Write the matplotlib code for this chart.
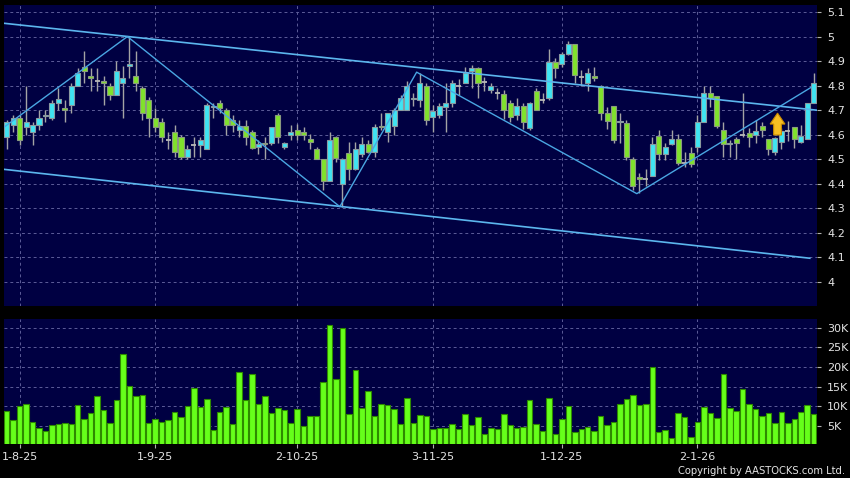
import matplotlib
matplotlib.use("Agg")
import matplotlib.pyplot as plt
import numpy as np
from matplotlib.ticker import FuncFormatter
from matplotlib.patches import Polygon

# ---------------- data ----------------
opens = [
    4.59, 4.64, 4.67, 4.63, 4.61, 4.64, 4.675, 4.67, 4.73, 4.71,
    4.72, 4.80, 4.875, 4.84, 4.82, 4.82, 4.80, 4.76, 4.81, 4.88,
    4.84, 4.79, 4.74, 4.67, 4.65, 4.58, 4.61, 4.59, 4.51, 4.56,
    4.56, 4.54, 4.712, 4.73, 4.70, 4.66, 4.62, 4.635, 4.61, 4.55,
    4.567, 4.567, 4.68, 4.549, 4.60, 4.62, 4.61, 4.583, 4.542, 4.50,
    4.41, 4.59, 4.40, 4.527, 4.46, 4.522, 4.561, 4.528, 4.637, 4.61,
    4.637, 4.70, 4.70, 4.745, 4.742, 4.80, 4.671, 4.68, 4.712, 4.728,
    4.80, 4.81, 4.86, 4.87, 4.816, 4.782, 4.769, 4.766, 4.728, 4.68,
    4.717, 4.629, 4.78, 4.742, 4.748, 4.898, 4.89, 4.93, 4.97, 4.836,
    4.81, 4.84, 4.80, 4.69, 4.717, 4.65, 4.649, 4.50, 4.429, 4.418,
    4.432, 4.596, 4.522, 4.562, 4.581, 4.486, 4.527, 4.549, 4.651, 4.769,
    4.759, 4.62, 4.562, 4.581, 4.60, 4.608, 4.599, 4.637, 4.581, 4.528,
    4.569, 4.615, 4.63, 4.569, 4.581, 4.728]
closes = [
    4.65, 4.67, 4.58, 4.65, 4.64, 4.67, 4.68, 4.73, 4.745, 4.70,
    4.80, 4.85, 4.86, 4.83, 4.82, 4.81, 4.76, 4.86, 4.83, 4.89,
    4.81, 4.69, 4.67, 4.63, 4.59, 4.58, 4.53, 4.51, 4.54, 4.56,
    4.58, 4.72, 4.718, 4.71, 4.64, 4.64, 4.635, 4.59, 4.545, 4.562,
    4.562, 4.63, 4.59, 4.567, 4.61, 4.60, 4.60, 4.569, 4.50, 4.41,
    4.58, 4.505, 4.50, 4.46, 4.542, 4.562, 4.528, 4.63, 4.63, 4.69,
    4.70, 4.748, 4.80, 4.75, 4.81, 4.66, 4.698, 4.717, 4.728, 4.81,
    4.80, 4.85, 4.87, 4.81, 4.816, 4.80, 4.769, 4.70, 4.671, 4.717,
    4.65, 4.728, 4.70, 4.742, 4.898, 4.87, 4.93, 4.97, 4.843, 4.836,
    4.85, 4.83, 4.69, 4.657, 4.58, 4.657, 4.511, 4.391, 4.418, 4.42,
    4.562, 4.522, 4.549, 4.581, 4.484, 4.486, 4.481, 4.651, 4.769, 4.749,
    4.636, 4.562, 4.568, 4.568, 4.60, 4.589, 4.617, 4.619, 4.54, 4.588,
    4.617, 4.615, 4.581, 4.596, 4.728, 4.81]
highs = [
    4.66, 4.68, 4.68, 4.80, 4.65, 4.70, 4.70, 4.74, 4.79, 4.74,
    4.81, 4.87, 4.94, 4.87, 4.87, 4.84, 4.81, 4.90, 4.88, 5.00,
    4.94, 4.80, 4.755, 4.71, 4.67, 4.61, 4.64, 4.60, 4.56, 4.59,
    4.59, 4.73, 4.73, 4.74, 4.71, 4.68, 4.66, 4.66, 4.62, 4.58,
    4.59, 4.63, 4.69, 4.569, 4.64, 4.645, 4.63, 4.605, 4.55, 4.50,
    4.61, 4.595, 4.505, 4.57, 4.57, 4.59, 4.58, 4.645, 4.69, 4.69,
    4.71, 4.76, 4.82, 4.77, 4.85, 4.81, 4.72, 4.728, 4.81, 4.825,
    4.826, 4.877, 4.884, 4.877, 4.836, 4.81, 4.79, 4.782, 4.742, 4.748,
    4.728, 4.735, 4.79, 4.769, 4.95, 4.912, 4.937, 4.98, 4.97, 4.864,
    4.87, 4.877, 4.803, 4.715, 4.717, 4.687, 4.66, 4.511, 4.443, 4.46,
    4.59, 4.62, 4.565, 4.62, 4.605, 4.53, 4.55, 4.68, 4.80, 4.80,
    4.759, 4.653, 4.578, 4.59, 4.77, 4.626, 4.66, 4.653, 4.581, 4.592,
    4.627, 4.655, 4.633, 4.64, 4.728, 4.853]
lows = [
    4.54, 4.61, 4.56, 4.60, 4.56, 4.62, 4.65, 4.66, 4.70, 4.65,
    4.69, 4.80, 4.81, 4.78, 4.78, 4.72, 4.74, 4.76, 4.67, 4.83,
    4.78, 4.66, 4.59, 4.61, 4.57, 4.54, 4.51, 4.50, 4.50, 4.51,
    4.51, 4.54, 4.67, 4.69, 4.60, 4.61, 4.59, 4.56, 4.54, 4.52,
    4.50, 4.56, 4.566, 4.54, 4.58, 4.58, 4.58, 4.54, 4.50, 4.375,
    4.41, 4.49, 4.307, 4.415, 4.455, 4.51, 4.525, 4.51, 4.62, 4.57,
    4.60, 4.70, 4.70, 4.717, 4.715, 4.64, 4.61, 4.67, 4.61, 4.715,
    4.76, 4.81, 4.79, 4.748, 4.78, 4.77, 4.745, 4.666, 4.653, 4.66,
    4.625, 4.62, 4.70, 4.728, 4.742, 4.83, 4.877, 4.925, 4.81, 4.80,
    4.78, 4.82, 4.66, 4.625, 4.565, 4.565, 4.497, 4.375, 4.361, 4.39,
    4.432, 4.497, 4.497, 4.558, 4.478, 4.47, 4.47, 4.53, 4.651, 4.715,
    4.626, 4.51, 4.51, 4.50, 4.59, 4.55, 4.565, 4.59, 4.517, 4.517,
    4.54, 4.575, 4.545, 4.565, 4.581, 4.728]
volumes_k = [
    8.8, 6.4, 10.0, 10.7, 5.9, 4.6, 3.6, 5.3, 5.4, 5.7,
    5.5, 10.3, 6.8, 8.3, 12.6, 9.1, 5.8, 11.7, 23.4, 15.2,
    12.6, 12.9, 5.8, 6.7, 6.1, 6.5, 8.5, 7.4, 10.1, 14.7,
    9.8, 11.9, 4.0, 8.5, 9.9, 5.4, 18.6, 11.7, 18.1, 10.5,
    12.6, 8.3, 9.6, 9.0, 5.8, 9.3, 5.1, 7.5, 7.5, 16.2,
    30.7, 16.9, 29.9, 8.1, 19.2, 9.6, 13.9, 7.5, 10.6, 10.3,
    9.3, 5.5, 12.1, 5.7, 7.9, 7.5,
    4.2, 4.6, 4.4, 5.5, 4.2, 8.0, 5.2, 7.2, 3.0, 4.6,
    4.3, 8.1, 5.2, 4.6, 4.8, 11.6, 5.5, 3.8, 12.2, 3.0,
    6.8, 10.0, 3.4, 4.3, 4.7, 3.7, 7.5, 5.2, 6.1, 10.6,
    11.9, 12.8, 10.3, 10.6, 20.1, 3.5, 4.0, 1.9, 8.2, 7.3,
    2.1, 6.1, 9.8, 8.3, 7.1, 18.1, 9.5, 8.7, 14.5, 10.6,
    9.4, 7.5, 8.4, 5.8, 8.5, 5.8, 6.8, 8.5, 10.3, 8.1]

date_labels = ["1-8-25", "1-9-25", "2-10-25", "3-11-25", "1-12-25", "2-1-26"]
date_index = [2, 23, 45, 66, 86, 107]
price_ticks = [4.0, 4.1, 4.2, 4.3, 4.4, 4.5, 4.6, 4.7, 4.8, 4.9, 5.0, 5.1]
vol_ticks_k = [5, 10, 15, 20, 25, 30]

upper_x, upper_y = [-0.4, 125.5], [5.054, 4.700]
lower_x, lower_y = [-0.4, 124.4], [4.459, 4.097]
zig_x = [-0.3, 18.7, 51.6, 63.5, 97.6, 124.6]
zig_y = [4.633, 5.000, 4.307, 4.855, 4.360, 4.793]
arrow_x, arrow_base, arrow_tip = 119.4, 4.599, 4.688

# ---------------- layout ----------------
W, H = 850, 478
BG = "#000042"
TXT = "#e4e4e4"
GRID = "#5c5c98"

def rect(l, t, r, b):
    return [l / W, 1 - b / H, (r - l) / W, (b - t) / H]

fig = plt.figure(figsize=(W / 100, H / 100), dpi=100, facecolor="black")
axp = fig.add_axes(rect(4, 5, 817.3, 306))
axv = fig.add_axes(rect(4, 319, 817.3, 444), sharex=axp)

O = np.array(opens); C = np.array(closes)
Hh = np.array(highs); L = np.array(lows)
V = np.array(volumes_k) * 1000
x = np.arange(len(O))

for ax in (axp, axv):
    ax.set_facecolor(BG)
    for s in ax.spines.values():
        s.set_visible(False)
    ax.set_axisbelow(True)
    ax.grid(True, color=GRID, linestyle=(0, (3, 3)), linewidth=0.7)
    ax.yaxis.tick_right()

# candles
eps = 0.003
up = C > O + eps
dn = C < O - eps
dj = ~(up | dn)
bw = 0.78
axp.vlines(x, L, Hh, color="#a4a4a4", linewidth=1.0, zorder=2)
axp.bar(x[up], (C - O)[up], bottom=O[up], width=bw, color="#3fe4f2",
        edgecolor="#8a9aa0", linewidth=0.8, zorder=3)
axp.bar(x[dn], (O - C)[dn], bottom=C[dn], width=bw, color="#80e22c",
        edgecolor="#8a9a80", linewidth=0.8, zorder=3)
axp.hlines(O[dj], x[dj] - bw / 2, x[dj] + bw / 2, color="#b8b8b8",
           linewidth=1.3, zorder=3)

# trend lines
lc = "#5cb6ee"
axp.plot(upper_x, upper_y, color=lc, linewidth=1.2, zorder=4)
axp.plot(lower_x, lower_y, color=lc, linewidth=1.2, zorder=4)
axp.plot(zig_x, zig_y, color="#4aa6e2", linewidth=1.0, zorder=4)

# arrow marker
hw, sw = 1.15, 0.6
hl = (arrow_tip - arrow_base) * 0.5
pts = [(arrow_x - sw, arrow_base), (arrow_x + sw, arrow_base),
       (arrow_x + sw, arrow_tip - hl), (arrow_x + hw, arrow_tip - hl),
       (arrow_x, arrow_tip), (arrow_x - hw, arrow_tip - hl),
       (arrow_x - sw, arrow_tip - hl)]
axp.add_patch(Polygon(pts, closed=True, facecolor="#f7be22",
                      edgecolor="#c98a00", linewidth=0.8, zorder=5))

axp.set_xlim(-0.42, 125.56)
axp.set_ylim(3.9024, 5.1285)
axp.set_yticks(price_ticks)
axp.yaxis.set_major_formatter(FuncFormatter(lambda v, _: f"{v:g}"))
axp.tick_params(axis="y", colors="#b0b0b0", labelcolor=TXT, labelsize=8,
                length=3, width=0.8, pad=4)
axp.tick_params(axis="x", length=0, labelbottom=False)

# volume
axv.bar(x, V, width=0.85, color="#66ff1a", edgecolor="#2e8a00",
        linewidth=0.8, zorder=3)
axv.set_ylim(420, 32200)
axv.set_yticks([k * 1000 for k in vol_ticks_k])
axv.set_yticklabels([f"{k}K" for k in vol_ticks_k])
axv.set_xticks(date_index)
axv.set_xticklabels(date_labels)
axp.set_xticks(date_index)
axv.tick_params(axis="y", colors="#b0b0b0", labelcolor=TXT, labelsize=8,
                length=3, width=0.8, pad=4)
axv.tick_params(axis="x", colors="#b0b0b0", labelcolor=TXT, labelsize=8,
                length=3, width=0.8, pad=3)

fig.text(845 / W, 1 - 471 / H, "Copyright by AASTOCKS.com Ltd.", ha="right",
         va="center", color=TXT, fontsize=7.2)

fig.savefig("out.png", dpi=100, facecolor="black")
